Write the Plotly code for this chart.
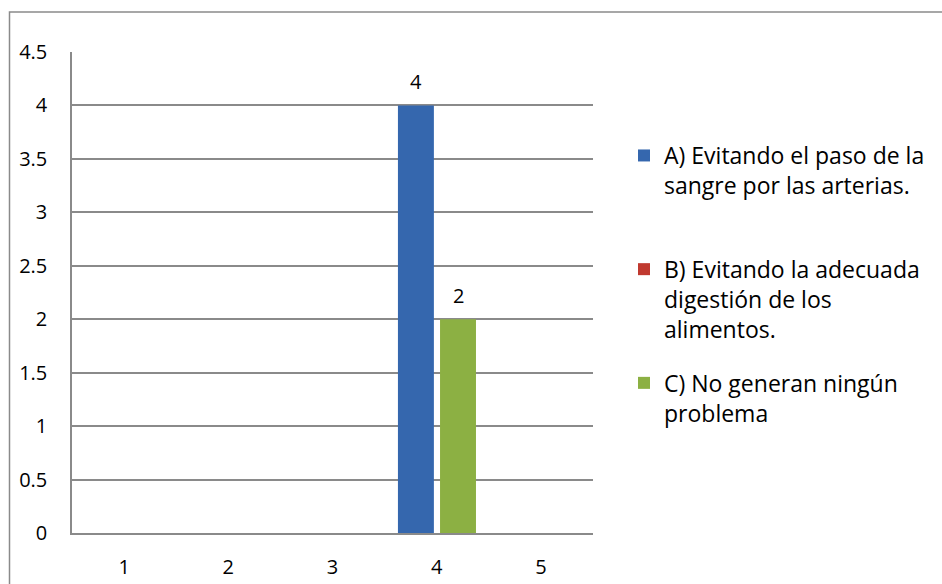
import plotly.graph_objects as go

categories = [1, 2, 3, 4, 5]
series_names = [
    "A) Evitando el paso de la<br>sangre por las arterias.<br> ",
    "B) Evitando la adecuada<br>digestión de los<br>alimentos.",
    "C) No generan ningún<br>problema<br> ",
]
values_a = [None, None, None, 4, None]
values_b = [None, None, None, None, None]
values_c = [None, None, None, 2, None]
y_ticks = [0, 0.5, 1, 1.5, 2, 2.5, 3, 3.5, 4, 4.5]
y_tick_labels = ["0", "0.5", "1", "1.5", "2", "2.5", "3", "3.5", "4", "4.5"]

FONT = "Open Sans"
W, H = 942, 584
L, R, T, B = 72, 593, 52, 533

colors = ["#3567AE", "#C0392F", "#8CB043"]
offsets = [-0.372, -0.17, 0.032]
bw = 0.345

fig = go.Figure()
for name, vals, col, off in zip(series_names, [values_a, values_b, values_c], colors, offsets):
    fig.add_trace(go.Bar(
        x=categories, y=vals, name=name,
        marker=dict(color=col, line=dict(width=0)),
        offset=off, width=bw,
        legendgroup=name,
    ))
    for xv, yv in zip(categories, vals):
        if yv is not None:
            fig.add_annotation(x=xv + off + bw / 2, y=yv, text=str(yv), showarrow=False,
                               yanchor="middle", yshift=24,
                               font=dict(family=FONT, size=20, color="#000"))

grid = "#8a8a8a"
fig.update_layout(
    width=W, height=H,
    margin=dict(l=L, r=W - R, t=T, b=H - B, pad=0, autoexpand=False),
    paper_bgcolor="white", plot_bgcolor="white",
    barmode="overlay",
    font=dict(family=FONT, size=20, color="#000"),
    showlegend=True,
    legend=dict(
        x=1.0595, xanchor="left", y=0.8295, yanchor="top",
        font=dict(family=FONT, size=23, color="#000"),
        valign="top", tracegroupgap=21,
        bgcolor="rgba(0,0,0,0)",
    ),
    xaxis=dict(
        range=[0.5, 5.5], tickvals=categories, ticktext=[str(c) for c in categories],
        showgrid=False, showline=True, linecolor=grid, linewidth=1.5,
        ticks="", ticklabelstandoff=15, zeroline=False, automargin=False,
    ),
    yaxis=dict(
        range=[0, 4.5], tickvals=y_ticks, ticktext=y_tick_labels,
        showgrid=True, gridcolor=grid, gridwidth=1.5,
        showline=True, linecolor=grid, linewidth=1.5,
        ticks="", ticklabelstandoff=19, zeroline=False, automargin=False,
    ),
    shapes=[dict(type="rect", xref="paper", yref="paper",
                 x0=(9.5 - L) / (R - L), x1=2.0,
                 y0=-0.5, y1=(B - 12) / (B - T),
                 line=dict(color=grid, width=1.5), fillcolor="rgba(0,0,0,0)",
                 layer="below")],
)

fig.write_html(
    "out.html",
    config={"displayModeBar": False},
    post_script="document.body.style.margin='0';document.body.style.overflow='hidden';",
)
